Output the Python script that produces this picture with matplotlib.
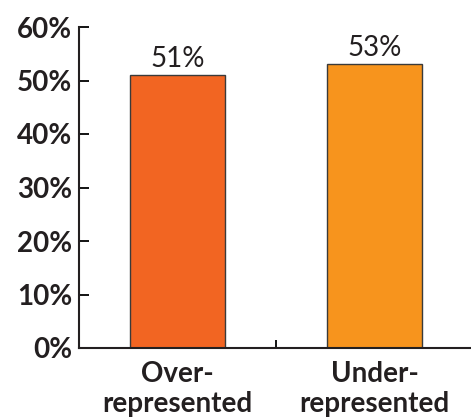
import matplotlib.pyplot as plt
from matplotlib.ticker import FixedLocator

categories = ["Over-\nrepresented", "Under-\nrepresented"]
values = [51, 53]
colors = ["#F26522", "#F7941D"]
yticks = [0, 10, 20, 30, 40, 50, 60]

plt.rcParams["font.family"] = ["Lato", "DejaVu Sans"]

fig = plt.figure(figsize=(4.71, 4.2), dpi=100)
ax = fig.add_axes([79 / 471, 72 / 420, 394 / 471, 321 / 420])

x = list(range(len(categories)))
bars = ax.bar(x, values, width=0.48, color=colors, edgecolor="#3a3a3a", linewidth=1)

for b, v in zip(bars, values):
    ax.text(b.get_x() + b.get_width() / 2, v + 0.6, f"{v}%", ha="center", va="bottom",
            fontsize=20, color="#231f20")

ax.set_xlim(-0.5, 1.5)
ax.set_ylim(0, 60)
ax.set_yticks(yticks)
ax.set_yticklabels([f"{t}%" for t in yticks], fontsize=20, fontweight="bold", color="#231f20")
ax.tick_params(axis="y", direction="in", length=7, width=1.3, pad=5)

ax.set_xticks(x)
ax.set_xticklabels(categories, fontsize=20, fontweight="bold", color="#231f20", linespacing=1.2)
ax.tick_params(axis="x", which="major", length=0, pad=9)
ax.xaxis.set_minor_locator(FixedLocator([0.5]))
ax.tick_params(axis="x", which="minor", direction="in", length=6, width=1.3)

for s in ["top", "right"]:
    ax.spines[s].set_visible(False)
for s in ["left", "bottom"]:
    ax.spines[s].set_linewidth(1.5)
    ax.spines[s].set_color("#231f20")

fig.savefig("out.png", dpi=100)
